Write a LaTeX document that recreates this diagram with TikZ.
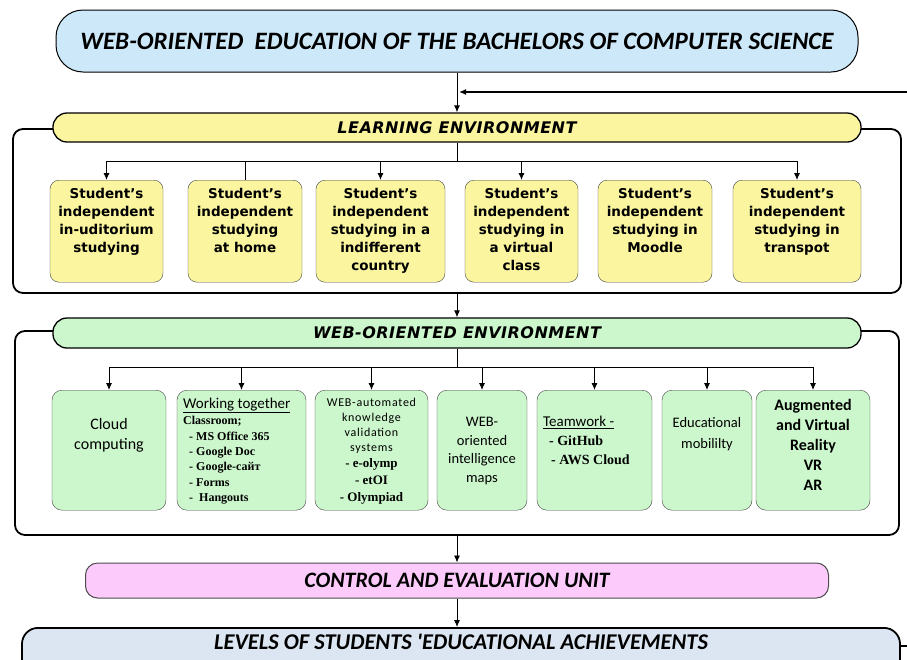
\documentclass[tikz,border=0pt]{standalone}
\usepackage{fontspec}
\setmainfont{Carlito}
\newfontfamily\verdfont{DejaVu Sans}
\newfontfamily\timesfont{Liberation Serif}
\usepackage{tikz}
\usetikzlibrary{arrows.meta}
\definecolor{titleblue}{HTML}{CCE8F9}
\definecolor{envyellow}{HTML}{FAF59E}
\definecolor{envgreen}{HTML}{CCF7CC}
\definecolor{unitpink}{HTML}{FCCBFC}
\definecolor{levelblue}{HTML}{DCE6F2}

\begin{document}
\begin{tikzpicture} [
    x = 1pt, y = -1pt,
    every node/.style = { inner sep = 0 },
    tip/.style = { -{Latex[length=7pt, width=6pt]} },
    capsule/.style = { draw, line width = 1pt, font = \bfseries\itshape\fontsize{22.5}{22.5}\selectfont },
    envbar/.style = { draw, line width = 1.3pt, rounded corners = 14pt, minimum height = 29pt, minimum width = 808pt,
      font = \verdfont\bfseries\itshape\addfontfeature{LetterSpace=3}\fontsize{16}{16}\selectfont },
    frame/.style = { draw, line width = 1.8pt, rounded corners = 10pt },
    stbox/.style = { draw = black!75, fill = envyellow, rounded corners = 9pt, anchor = north, minimum height = 102pt },
    sttext/.style = { anchor = north, align = center, font = \verdfont\bfseries\fontsize{13.5}{18}\selectfont },
    webox/.style = { draw = black!75, fill = envgreen, rounded corners = 10pt, anchor = north, minimum height = 120pt },
    wetext/.style = { anchor = north, align = center },
    link/.style = { line width = 0.9pt },
    feed/.style = { line width = 2pt, tip }
  ]

  \clip (0,0) rectangle (907,659);

  \node [capsule, fill=titleblue, rounded corners=27pt, minimum width=802pt, minimum height=62pt,
    font=\bfseries\itshape\fontsize{25}{25}\selectfont] (title) at (457,41)
    {WEB-ORIENTED\ \ EDUCATION OF THE BACHELORS OF COMPUTER SCIENCE};

  % learning environment
  \node [frame, minimum width=888pt, minimum height=164pt] (leframe) at (457,211) {};
  \node [envbar, fill=envyellow] (lebar) at (457,127.5) {LEARNING ENVIRONMENT};

  \node [stbox, minimum width=113pt] (aud) at (106.5,180) {};
  \node [stbox, minimum width=114pt] (home) at (245,180) {};
  \node [stbox, minimum width=129pt] (abroad) at (380.5,180) {};
  \node [stbox, minimum width=113pt] (virt) at (521.5,180) {};
  \node [stbox, minimum width=114pt] (moodle) at (655,180) {};
  \node [stbox, minimum width=128pt] (transp) at (797,180) {};

  \node [sttext] (audtext) at (aud.north |- 0,188) {Student’s\\independent\\in-uditorium\\studying};
  \node [sttext] (hometext) at (home.north |- 0,188) {Student’s\\independent\\studying\\at home};
  \node [sttext] (abroadtext) at (abroad.north |- 0,188) {Student’s\\independent\\studying in a\\indifferent\\country};
  \node [sttext] (virttext) at (virt.north |- 0,188) {Student’s\\independent\\studying in\\a virtual\\class};
  \node [sttext] (moodletext) at (moodle.north |- 0,188) {Student’s\\independent\\studying in\\Moodle};
  \node [sttext] (transptext) at (transp.north |- 0,188) {Student’s\\independent\\studying in\\transpot};

  \coordinate (lebus) at (457,161);
  \draw [link, tip] (title) -- (lebar);
  \draw [link] (lebar) -- (lebus);
  \draw [link, tip] (lebus) -| (aud);
  \draw [link] (lebus) -| (home);
  \draw [link, tip] (lebus) -| (abroad);
  \draw [link, tip] (lebus) -| (virt);
  \draw [link, tip] (lebus) -| (transp);

  % web-oriented environment
  \node [frame, minimum width=884pt, minimum height=204pt] (weframe) at (457,433) {};
  \node [envbar, fill=envgreen, minimum height=30pt] (webar) at (457,333) {WEB-ORIENTED ENVIRONMENT};
  \draw [link, tip] (leframe) -- (webar);

  \node [webox, minimum width=114pt] (cloud) at (109,390) {};
  \node [webox, minimum width=129pt] (together) at (241.5,390) {};
  \node [webox, minimum width=113pt] (valid) at (371.5,390) {};
  \node [webox, minimum width=90pt] (maps) at (482,390) {};
  \node [webox, minimum width=115pt] (team) at (594.5,390) {};
  \node [webox, minimum width=90pt] (mobil) at (707,390) {};
  \node [webox, minimum width=114pt] (avr) at (813,390) {};

  \node [wetext, font=\fontsize{16}{20}\selectfont] (cloudtext) at (109,418) {Cloud\\computing};
  \node [wetext, anchor=north west, align=left, font=\timesfont\bfseries\fontsize{12}{15.3}\selectfont] (togethertext) at (183,398)
    {{\rmfamily\mdseries\fontsize{15}{15}\selectfont\underline{Working together}}\\[1pt]
     Classroom;\\
     \ \ - MS Office 365\\
     \ \ - Google Doc\\
     \ \ - Google-сайт\\
     \ \ - Forms\\
     \ \ -\ \ Hangouts};
  \node [wetext, font=\addfontfeature{LetterSpace=6}\fontsize{12}{15}\selectfont] (validtext) at (371.5,397.5)
    {WEB-automated\\knowledge\\validation\\systems\\[1pt]
     {\timesfont\bfseries\fontsize{13}{17}\selectfont - e-olymp}\\[2pt]
     {\timesfont\bfseries\fontsize{13}{17}\selectfont - etOI}\\[2pt]
     {\timesfont\bfseries\fontsize{13}{17}\selectfont - Olympiad}};
  \node [wetext, font=\fontsize{14.5}{18.7}\selectfont] (mapstext) at (482,417) {WEB-\\oriented\\intelligence\\maps};
  \node [wetext, anchor=north west, align=left, font=\timesfont\bfseries\fontsize{14}{19}\selectfont] (teamtext) at (543,416)
    {{\rmfamily\mdseries\fontsize{15}{15}\selectfont\underline{Teamwork -}}\\
     \hspace{6pt}- GitHub\\
     \hspace{8pt}- AWS Cloud};
  \node [wetext, font=\fontsize{14.5}{21}\selectfont] (mobiltext) at (707,417) {Educational\\mobililty};
  \node [wetext, font=\bfseries\fontsize{16}{20}\selectfont] (avrtext) at (813,399) {Augmented\\and Virtual\\Reality\\VR\\AR};

  \coordinate (webus) at (457,367);
  \draw [link] (webar) -- (webus);
  \foreach \target in {cloud, together, valid, maps, team, mobil, avr}
    \draw [link, tip] (webus) -| (\target);

  % control and results
  \node [capsule, fill=unitpink, draw=black!70, rounded corners=12pt, minimum width=743pt, minimum height=35pt,
    font=\bfseries\itshape\fontsize{22}{22}\selectfont] (ceu) at (457,580.5)
    {CONTROL AND EVALUATION UNIT};
  \draw [link, tip] (weframe) -- (ceu);

  \node [capsule, fill=levelblue, line width=1.8pt, rounded corners=16pt, minimum width=878pt, anchor=north,
    text height=22pt, text depth=28pt] (levels) at (461,627)
    {LEVELS OF STUDENTS {\addfontfeature{Ligatures=TeXOff}'}EDUCATIONAL ACHIEVEMENTS};
  \draw [link, tip] (ceu) -- (ceu |- levels.north);

  \coordinate (fbjoin) at (459,92);
  \draw [feed] ([yshift=7pt]levels.east) -- ++(40,0) |- (fbjoin);
\end{tikzpicture}
\end{document}
